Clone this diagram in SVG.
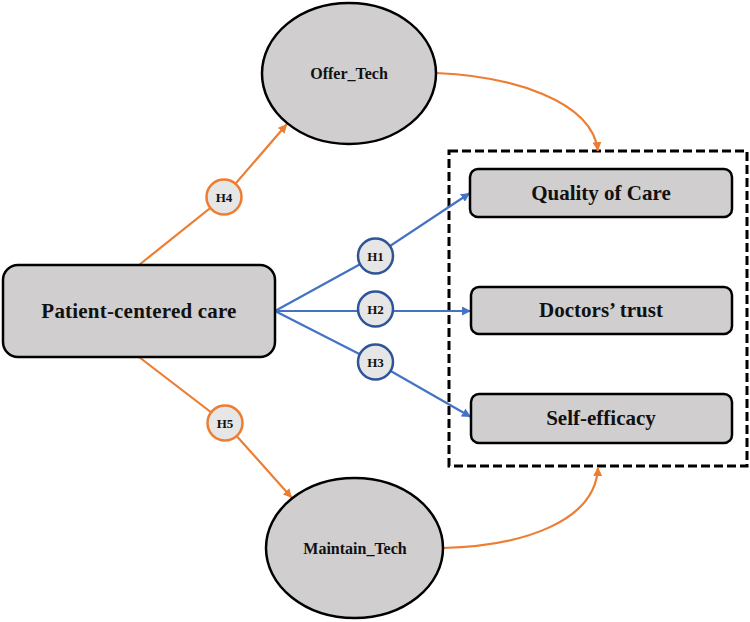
<svg xmlns="http://www.w3.org/2000/svg" width="750" height="622" viewBox="0 0 750 622">
<defs>
<marker id="ao" viewBox="0 0 10 10" refX="10" refY="5" markerWidth="9" markerHeight="9" markerUnits="userSpaceOnUse" orient="auto"><path d="M0,0 L10,5 L0,10 z" fill="#ED7D31"/></marker>
<marker id="ab" viewBox="0 0 10 10" refX="10" refY="5" markerWidth="9" markerHeight="9" markerUnits="userSpaceOnUse" orient="auto"><path d="M0,0 L10,5 L0,10 z" fill="#4472C4"/></marker>
</defs>
<style>
.node{fill:#D0CECE;stroke:#000;stroke-width:2.5}
text{font-family:'Liberation Serif','DejaVu Serif',serif;font-weight:bold;fill:#111;text-anchor:middle}
.big{font-size:21px}
.mid{font-size:16px}
.hs{font-size:13px}
.o{fill:none;stroke:#ED7D31;stroke-width:2.2}
.b{fill:none;stroke:#4472C4;stroke-width:2.2}
.ho{fill:#E7E6E6;stroke:#ED7D31;stroke-width:2.5}
.hb{fill:#E7E6E6;stroke:#2F5597;stroke-width:2.5}
</style>
<rect x="449" y="151" width="298" height="315" fill="none" stroke="#000" stroke-width="3" stroke-dasharray="9,4"/>
<g id="connectors">
<path class="o" d="M139,265 L224,197 L287,124" marker-end="url(#ao)"/>
<path class="o" d="M139,357 L225,423 L292,498" marker-end="url(#ao)"/>
<path class="o" d="M436,73 C510,76 592,100 598,151" marker-end="url(#ao)"/>
<path class="o" d="M443,548 C522,546 596,522 598,467" marker-end="url(#ao)"/>
<path class="b" d="M275,311 L375,256 L470,193" marker-end="url(#ab)"/>
<path class="b" d="M275,311 L471,311" marker-end="url(#ab)"/>
<path class="b" d="M275,311 L375,362 L471,417" marker-end="url(#ab)"/>
</g>
<g id="offer_tech"><ellipse class="node" cx="349" cy="73.5" rx="87" ry="70.5"/><text class="mid" x="349" y="79">Offer_Tech</text></g>
<g id="maintain_tech"><ellipse class="node" cx="354.5" cy="548" rx="88.5" ry="70"/><text class="mid" x="355" y="554">Maintain_Tech</text></g>
<g id="patient_centered_care"><rect class="node" x="3" y="265" width="272" height="92" rx="15"/><text class="big" x="139" y="318" letter-spacing="0.2">Patient-centered care</text></g>
<g id="quality_of_care"><rect class="node" x="470" y="169" width="262" height="48" rx="8"/><text class="big" x="601" y="200">Quality of Care</text></g>
<g id="doctors_trust"><rect class="node" x="471" y="287" width="261" height="47" rx="8"/><text class="big" x="601" y="317">Doctors’ trust</text></g>
<g id="self_efficacy"><rect class="node" x="471" y="394" width="261" height="49" rx="8"/><text class="big" x="601" y="425">Self-efficacy</text></g>
<g id="h4"><circle class="ho" cx="224" cy="197" r="17.5"/><text class="hs" x="224" y="201.5">H4</text></g>
<g id="h5"><circle class="ho" cx="225" cy="423" r="17.5"/><text class="hs" x="225" y="427.5">H5</text></g>
<g id="h1"><circle class="hb" cx="375.5" cy="256" r="17.5"/><text class="hs" x="375.5" y="260.5">H1</text></g>
<g id="h2"><circle class="hb" cx="375.5" cy="309" r="17.5"/><text class="hs" x="375.5" y="313.5">H2</text></g>
<g id="h3"><circle class="hb" cx="375.5" cy="362" r="17.5"/><text class="hs" x="375.5" y="366.5">H3</text></g>
</svg>
